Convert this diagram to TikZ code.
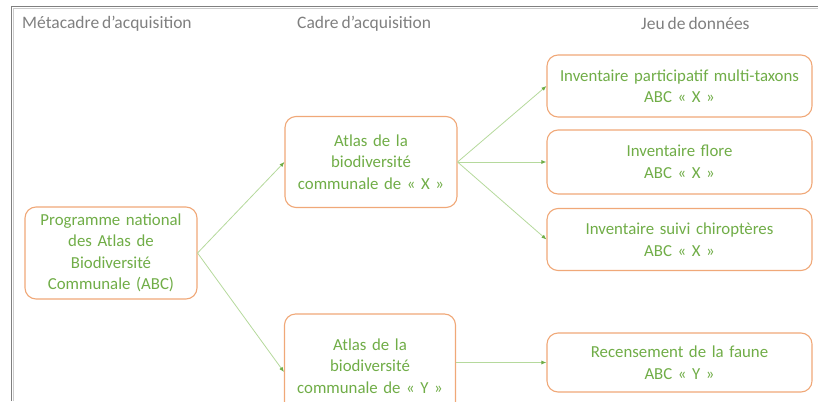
\documentclass[tikz,border=0pt]{standalone}
\usepackage{fontspec}
\setmainfont{Carlito}[WordSpace=0.75]
\usetikzlibrary{arrows.meta}
\definecolor{abcorange}{HTML}{F0A878}
\definecolor{abcvert}{HTML}{70AD47}
\definecolor{abcvertclair}{HTML}{B5D99C}
\definecolor{abcgris}{HTML}{7F7F7F}

\begin{document}
\begin{tikzpicture}[x=1pt, y=-1pt,
		boite/.style={draw=abcorange, line width=1.1pt, rounded corners=11pt, fill=white,
			text=abcvert, align=center, font=\fontsize{16.8}{21.5}\selectfont, inner sep=2pt},
		fleche/.style={draw=abcvertclair, line width=0.8pt, -{Latex[length=5pt,width=4pt,color=abcvert]}},
		entete/.style={text=abcgris, font=\fontsize{17.5}{20}\selectfont, anchor=base west, inner sep=0pt}]
		\useasboundingbox (0,0) rectangle (818,401);
		%\draw[red] (0,0) rectangle (818,401);
		
		% Cadre gris
		\draw[abcgris!40, line width=1.5pt] (13.5,401) -- (13.5,8.5) -- (818,8.5);
		\draw[abcgris, line width=1pt] (11.5,401) -- (11.5,6.5) -- (818,6.5);
		
		% Titres des colonnes
		\node[entete] (titre1) at (22,29) {Métacadre d’acquisition};
		\node[entete] (titre2) at (297,29) {Cadre d’acquisition};
		\node[entete] (titre3) at (641,30) {Jeu de données};
		
		% Metacadre
		\node[boite, minimum width=172pt, minimum height=92pt, text width=165pt] (programme) at (111,253)
			{Programme national\\des Atlas de\\Biodiversité\\Communale (ABC)};
		
		% Cadres
		\node[boite, minimum width=172pt, minimum height=91pt, text width=165pt] (atlasX) at (371,162)
			{Atlas de la\\biodiversité\\communale de « X »};
		\node[boite, minimum width=171pt, minimum height=104pt, text width=165pt] (atlasY) at (370,366)
			{Atlas de la\\biodiversité\\communale de « Y »};
		
		% Jeux de donnees
		\foreach \nom/\y/\h/\txt/\atlas in {jdd1/86/62/{Inventaire participatif multi-taxons}/X,
			jdd2/162/64/{Inventaire flore}/X,
			jdd3/239.5/62/{Inventaire suivi chiroptères}/X,
			jdd4/362.5/59/{Recensement de la faune}/Y} {
			\node[boite, minimum width=265pt, minimum height=\h pt, text width=258pt] (\nom) at (679.5,\y)
				{\txt\\ABC « {\atlas} »};
		}
		
		% Liens
		\draw[fleche] (programme.east) -- (atlasX.west);
		\draw[fleche] (programme.east) -- ([yshift=-6pt]atlasY.west);
		\foreach \nom in {jdd1,jdd2,jdd3} {
			\draw[fleche] (atlasX.east) -- (\nom.west);
		}
		\draw[fleche] (atlasY.east |- jdd4.west) -- (jdd4.west);
	\end{tikzpicture}
\end{document}
